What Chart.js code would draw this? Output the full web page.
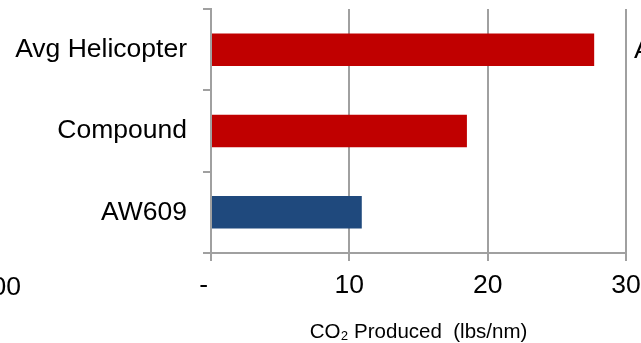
<!DOCTYPE html>
<html>
<head>
<meta charset="utf-8">
<script src="https://cdn.jsdelivr.net/npm/chart.js@4.4.0/dist/chart.umd.min.js"></script>
<style>
  html, body { margin: 0; padding: 0; background: #fff; }
  canvas { display: block; }
</style>
</head>
<body>
<canvas id="myChart" width="641" height="343"></canvas>
<script>
// emissions per nautical mile
const aircraft = ['Avg Helicopter', 'Compound', 'AW609'];
const co2Values = [27.7, 18.5, 10.9];
const barColors = ['#c00000', '#c00000', '#1f497d'];
const axisTicks = [0, 10, 20, 30];

const FONT = 'Liberation Sans, Arial, sans-serif';
const GRID = '#a0a0a0';

// text from the neighbouring panels that runs into the frame
const sideText = {
    id: 'sideText',
    afterDraw(chart) {
        let ctx = chart.ctx;
        ctx.save();
        ctx.fillStyle = '#000';
        ctx.font = '26.5px ' + FONT;
        ctx.textBaseline = 'alphabetic';
        ctx.textAlign = 'right';
        ctx.fillText('100', 21, 295);
        ctx.textAlign = 'left';
        ctx.fillText('Avg Helicopter', 634, 58);
        ctx.restore();
    }
};

var ctx = document.getElementById('myChart').getContext('2d');
var chart = new Chart(ctx, {
    type: 'bar',
    data: {
        labels: aircraft,
        datasets: [{
            data: co2Values,
            backgroundColor: barColors,
            borderWidth: 0,
            barPercentage: 0.4,
            categoryPercentage: 1
        }]
    },
    options: {
        indexAxis: 'y',
        responsive: false,
        animation: false,
        layout: { padding: { top: 9, right: 15, left: 0, bottom: 0 } },
        plugins: {
            legend: { display: false },
            tooltip: { enabled: false }
        },
        scales: {
            x: {
                min: 0,
                max: 30,
                afterBuildTicks: (scale) => {
                    scale.ticks = axisTicks.map(v => ({ value: v }));
                },
                afterFit: (scale) => {
                    scale.height = 90;
                    scale.paddingLeft = 0;
                    scale.paddingRight = 0;
                },
                ticks: {
                    color: '#000',
                    font: { family: FONT, size: 26.5 },
                    padding: 9,
                    maxRotation: 0,
                    callback: (v) => v === 0 ? '-  ' : v
                },
                grid: { color: GRID, lineWidth: 2, tickLength: 8 },
                border: { color: GRID, width: 2 },
                title: {
                    display: true,
                    text: 'CO₂ Produced  (lbs/nm)',
                    color: '#000',
                    font: { family: FONT, size: 20.5 },
                    padding: { top: 16, bottom: -2 }
                }
            },
            y: {
                afterFit: (scale) => {
                    scale.width = 211;
                    scale.paddingTop = 0;
                    scale.paddingBottom = 0;
                },
                ticks: {
                    color: '#000',
                    font: { family: FONT, size: 26.5 },
                    padding: 16
                },
                grid: {
                    offset: true,
                    drawOnChartArea: false,
                    color: GRID,
                    lineWidth: 2,
                    tickLength: 8
                },
                border: { color: GRID, width: 2 }
            }
        }
    },
    plugins: [sideText]
});
</script>
</body>
</html>
